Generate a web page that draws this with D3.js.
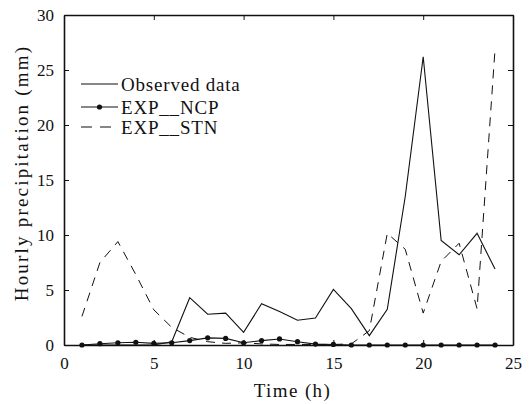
<!DOCTYPE html>
<html>
<head>
<meta charset="utf-8">
<script src="https://cdn.jsdelivr.net/npm/d3@7"></script>
<style>
  body { margin: 0; background: #fff; }
</style>
</head>
<body>
<div id="chart"></div>
<script>
const hours = d3.range(1, 25);
const observed = [0, 0, 0, 0, 0, 0.3, 4.3, 2.8, 2.9, 1.15, 3.75, 3.05, 2.25, 2.45, 5.05, 3.3, 0.85, 3.25, 13.5, 26.2, 9.5, 8.2, 10.15, 6.9];
const expNCP = [0, 0.12, 0.2, 0.25, 0.15, 0.2, 0.4, 0.65, 0.6, 0.2, 0.4, 0.55, 0.3, 0.08, 0.05, 0, 0, 0, 0, 0, 0, 0, 0, 0];
const expSTN = [2.6, 7.5, 9.4, 6.4, 3.2, 1.6, 0.7, 0.3, 0.15, 0.2, 0.1, 0.05, 0.05, 0.05, 0.05, 0.1, 1.3, 10.15, 8.7, 2.9, 7.6, 9.25, 3.3, 26.9];
const xTicks = [0, 5, 10, 15, 20, 25];
const yTicks = [0, 5, 10, 15, 20, 25, 30];
const legendNames = ["Observed data", "EXP__NCP", "EXP__STN"];

const FONT = "Liberation Serif";

const margin = {top: 15, right: 16, bottom: 59, left: 64};
const W = 529, H = 404;
const width = W - margin.left - margin.right;
const height = H - margin.top - margin.bottom;

const svg = d3.select("#chart").append("svg")
  .attr("width", W)
  .attr("height", H)
  .append("g")
  .attr("transform", "translate(" + margin.left + "," + margin.top + ")");

const x = d3.scaleLinear().domain([0, 25]).range([0, width]);
const y = d3.scaleLinear().domain([0, 30]).range([height, 0]);

// frame with inward ticks on every side
svg.append("g")
  .attr("transform", "translate(0," + height + ")")
  .call(d3.axisBottom(x).tickValues(xTicks).tickSizeInner(-5).tickSizeOuter(0).tickPadding(12))
  .attr("font-family", FONT).attr("font-size", 17);
svg.append("g")
  .call(d3.axisTop(x).tickValues(xTicks).tickSizeInner(-5).tickSizeOuter(0).tickFormat(""));
svg.append("g")
  .call(d3.axisLeft(y).tickValues(yTicks).tickSizeInner(-5).tickSizeOuter(0).tickPadding(10))
  .attr("font-family", FONT).attr("font-size", 17);
svg.append("g")
  .attr("transform", "translate(" + width + ",0)")
  .call(d3.axisRight(y).tickValues(yTicks).tickSizeInner(-5).tickSizeOuter(0).tickFormat(""));
svg.selectAll(".domain").attr("stroke", "#111").attr("stroke-width", 1.6);
svg.selectAll(".tick line").attr("stroke", "#111");
svg.selectAll(".tick text").attr("fill", "#111");

const line = d3.line()
  .x((d, i) => x(hours[i]))
  .y(d => y(d));

svg.append("path")
  .datum(expSTN)
  .attr("fill", "none")
  .attr("stroke", "#111")
  .attr("stroke-width", 1)
  .attr("stroke-dasharray", "9,7")
  .attr("d", line);

svg.append("path")
  .datum(observed)
  .attr("fill", "none")
  .attr("stroke", "#111")
  .attr("stroke-width", 1.1)
  .attr("d", line);

svg.append("path")
  .datum(expNCP)
  .attr("fill", "none")
  .attr("stroke", "#111")
  .attr("stroke-width", 1.1)
  .attr("d", line);

svg.selectAll("circle.ncp")
  .data(expNCP)
  .join("circle")
  .attr("class", "ncp")
  .attr("cx", (d, i) => x(hours[i]))
  .attr("cy", d => y(d))
  .attr("r", 2.6)
  .attr("fill", "#111");

// legend
const legend = svg.append("g").attr("transform", "translate(17,69)");
const rowY = [0, 23, 43];
legendNames.forEach((name, i) => {
  const row = legend.append("g").attr("transform", "translate(0," + rowY[i] + ")");
  row.append("line")
    .attr("x1", 0).attr("x2", 37)
    .attr("stroke", "#111")
    .attr("stroke-width", 1.1)
    .attr("stroke-dasharray", i === 2 ? "11,8" : null);
  if (i === 1) row.append("circle").attr("cx", 18.5).attr("r", 2.6).attr("fill", "#111");
  row.append("text")
    .attr("x", 40)
    .attr("dy", "0.35em")
    .attr("font-family", FONT)
    .attr("font-size", 19)
    .attr("fill", "#111")
    .style("letter-spacing", "0.8px")
    .text(name);
});

// axis labels
svg.append("text")
  .attr("x", width / 2 + 4)
  .attr("y", height + 52)
  .attr("text-anchor", "middle")
  .attr("font-family", FONT)
  .attr("font-size", 19)
  .attr("fill", "#111")
  .style("letter-spacing", "1.4px")
  .text("Time (h)");

svg.append("text")
  .attr("transform", "rotate(-90)")
  .attr("x", -158)
  .attr("y", -36)
  .attr("text-anchor", "middle")
  .attr("font-family", FONT)
  .attr("font-size", 19)
  .attr("fill", "#111")
  .style("letter-spacing", "2.2px")
  .text("Hourly precipitation (mm)");
</script>
</body>
</html>
